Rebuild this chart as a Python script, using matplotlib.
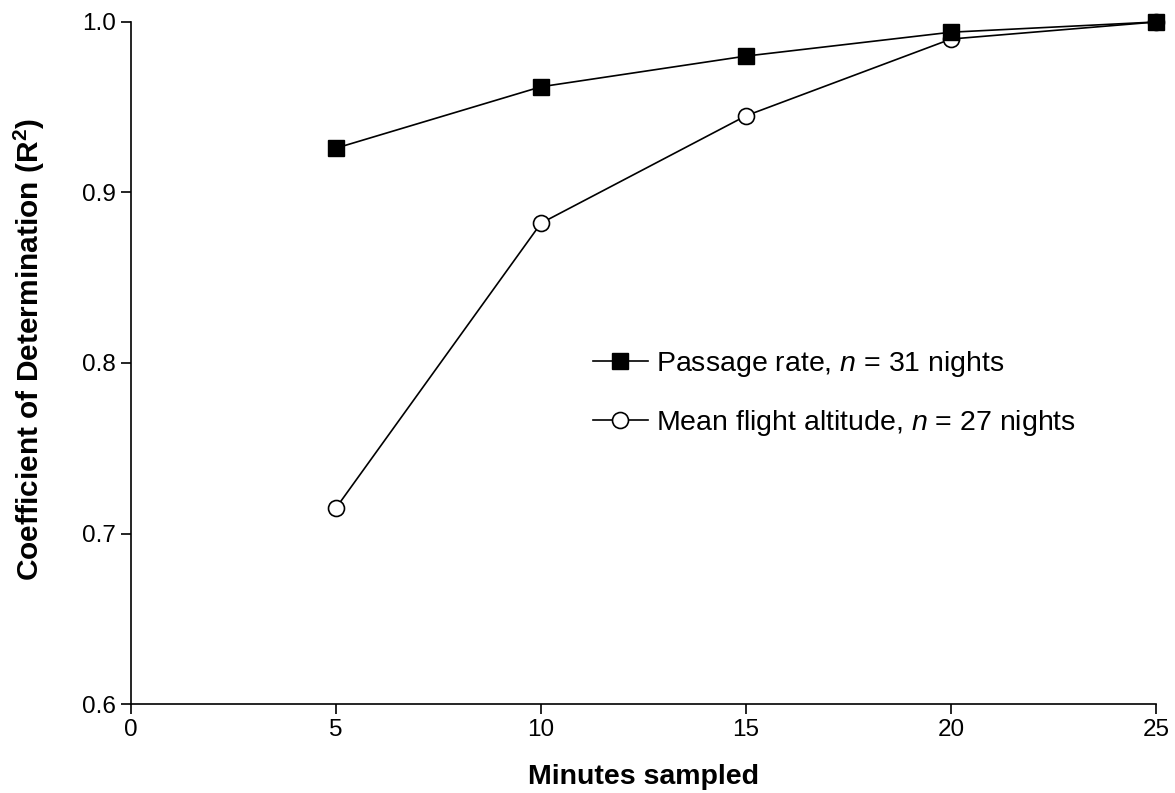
import matplotlib

matplotlib.use("Agg")
import matplotlib.pyplot as plt

plt.rcParams["font.family"] = ["Liberation Sans", "DejaVu Sans"]
plt.rcParams["mathtext.fontset"] = "custom"
plt.rcParams["mathtext.rm"] = "Liberation Sans"
plt.rcParams["mathtext.it"] = "Liberation Sans:italic"
plt.rcParams["mathtext.bf"] = "Liberation Sans:bold"

minutes = [5, 10, 15, 20, 25]
passage_rate = [0.926, 0.962, 0.980, 0.994, 1.000]
flight_altitude = [0.715, 0.882, 0.945, 0.990, 1.000]

x_ticks = [0, 5, 10, 15, 20, 25]
y_ticks = [0.6, 0.7, 0.8, 0.9, 1.0]

fig = plt.figure(figsize=(11.75, 7.93), dpi=100)
ax = fig.add_axes([0.1115, 0.1122, 0.8724, 0.8601])

ax.plot(minutes, passage_rate, color="black", lw=1.2, marker="s", ms=11.5,
        mfc="black", mec="black", label=r"Passage rate, $\it{n}$ = 31 nights",
        zorder=3, clip_on=False)
ax.plot(minutes, flight_altitude, color="black", lw=1.2, marker="o", ms=11.5,
        mfc="white", mec="black", mew=1.2,
        label=r"Mean flight altitude, $\it{n}$ = 27 nights", zorder=2, clip_on=False)

ax.set_xlim(0, 25)
ax.set_ylim(0.6, 1.0)
ax.set_xticks(x_ticks)
ax.set_yticks(y_ticks)
ax.set_yticklabels([f"{v:.1f}" for v in y_ticks])
ax.tick_params(direction="out", length=7, width=1.2, labelsize=17.5, pad=4)
for s in ("top", "right"):
    ax.spines[s].set_visible(False)
for s in ("left", "bottom"):
    ax.spines[s].set_linewidth(1.2)

ax.set_xlabel("Minutes sampled", fontsize=20.5, fontweight="bold", labelpad=16)
ax.set_ylabel(r"Coefficient of Determination (R$^{\mathbf{2}}$)", fontsize=21.5,
              fontweight="bold")
ax.yaxis.set_label_coords(-0.082, 0.519)

ax.legend(loc="center left", bbox_to_anchor=(0.44, 0.455), frameon=False, fontsize=20.5,
          handlelength=1.9, handletextpad=0.3, labelspacing=1.0, borderaxespad=0)

fig.savefig("out.png", dpi=100)
